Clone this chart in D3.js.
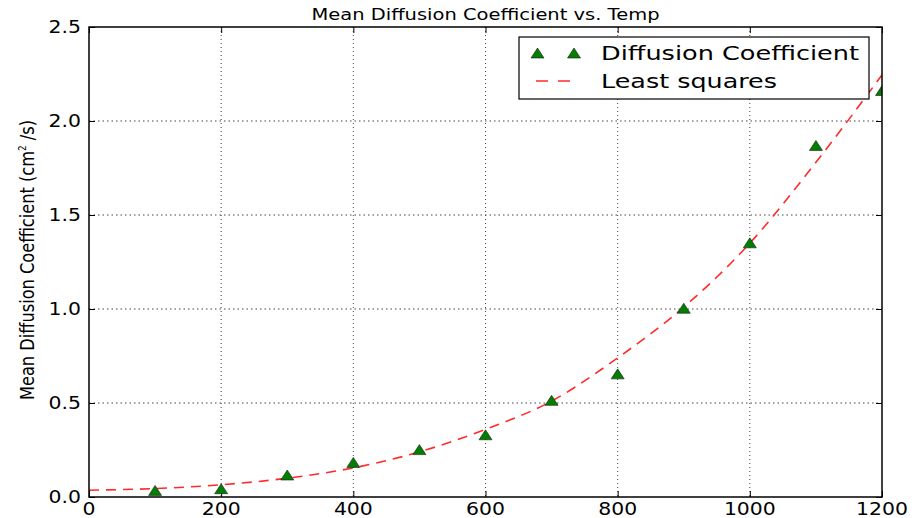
<!DOCTYPE html>
<html>
<head>
<meta charset="utf-8">
<script src="https://d3js.org/d3.v7.min.js"></script>
<style>
  body { margin: 0; background: #fff; }
  text { font-family: "DejaVu Sans", sans-serif; fill: #000; }
</style>
</head>
<body>
<div id="chart"></div>
<script>
// measured points
var temps = [100, 200, 300, 400, 500, 600, 700, 800, 900, 1000, 1100, 1200];
var diffCoef = [0.035, 0.044, 0.117, 0.184, 0.252, 0.331, 0.514, 0.655, 1.004, 1.352, 1.87, 2.162];

// least squares curve
var fitTemps = [0, 100, 200, 300, 400, 500, 600, 700, 800, 900, 1000, 1100, 1200];
var fitValues = [0.036, 0.045, 0.065, 0.10, 0.155, 0.24, 0.36, 0.51, 0.74, 1.01, 1.35, 1.78, 2.245];

var xTicks = [0, 200, 400, 600, 800, 1000, 1200];
var yTicks = [0.0, 0.5, 1.0, 1.5, 2.0, 2.5];

var svgWidth = 915;
var svgHeight = 518;

var margin = {
  top: 27,
  bottom: 21,
  right: 33,
  left: 89
};

var height = svgHeight - margin.top - margin.bottom;
var width = svgWidth - margin.left - margin.right;

var svg = d3.select("#chart")
  .append("svg")
  .attr("width", svgWidth)
  .attr("height", svgHeight);

svg.append("defs").append("clipPath")
  .attr("id", "plotClip")
  .append("rect")
  .attr("width", width)
  .attr("height", height);

var chartGroup = svg.append("g")
  .attr("transform", `translate(${margin.left}, ${margin.top})`);

var xScale = d3.scaleLinear().domain([0, 1200]).range([0, width]);
var yScale = d3.scaleLinear().domain([0, 2.5]).range([height, 0]);

// dotted grid
chartGroup.selectAll("line.vgrid")
  .data(xTicks.slice(1, -1))
  .enter()
  .append("line")
  .attr("x1", d => xScale(d))
  .attr("x2", d => xScale(d))
  .attr("y1", 0)
  .attr("y2", height)
  .attr("stroke", "#444")
  .attr("stroke-width", 1)
  .attr("stroke-dasharray", "1,3");

chartGroup.selectAll("line.hgrid")
  .data(yTicks.slice(1, -1))
  .enter()
  .append("line")
  .attr("x1", 0)
  .attr("x2", width)
  .attr("y1", d => yScale(d))
  .attr("y2", d => yScale(d))
  .attr("stroke", "#444")
  .attr("stroke-width", 1)
  .attr("stroke-dasharray", "1.5,3");

// axes (ticks pointing in, on all four sides)
var tickLen = 6;
function innerAxis(g) {
  g.selectAll(".domain").remove();
  g.selectAll("text").remove();
  g.selectAll("line").attr("stroke", "#000");
}
chartGroup.append("g")
  .attr("transform", `translate(0, ${height})`)
  .call(d3.axisTop(xScale).tickValues(xTicks).tickSize(tickLen))
  .call(innerAxis);
chartGroup.append("g")
  .call(d3.axisBottom(xScale).tickValues(xTicks).tickSize(tickLen))
  .call(innerAxis);
chartGroup.append("g")
  .call(d3.axisRight(yScale).tickValues(yTicks).tickSize(tickLen))
  .call(innerAxis);
chartGroup.append("g")
  .attr("transform", `translate(${width}, 0)`)
  .call(d3.axisLeft(yScale).tickValues(yTicks).tickSize(tickLen))
  .call(innerAxis);

// tick labels, a bit stretched sideways like the reference
chartGroup.selectAll("text.xlab")
  .data(xTicks)
  .enter()
  .append("text")
  .attr("text-anchor", "middle")
  .attr("font-size", "17px")
  .attr("transform", d => `translate(${xScale(d)}, ${height + 18}) scale(1.2, 1)`)
  .text(d => d);

chartGroup.selectAll("text.ylab")
  .data(yTicks)
  .enter()
  .append("text")
  .attr("text-anchor", "end")
  .attr("font-size", "17px")
  .attr("transform", d => `translate(-8, ${yScale(d) + 6}) scale(1.2, 1)`)
  .text(d => d.toFixed(1));

// least squares line
var line = d3.line()
  .x(d => xScale(d[0]))
  .y(d => yScale(d[1]))
  .curve(d3.curveMonotoneX);

var plotArea = chartGroup.append("g").attr("clip-path", "url(#plotClip)");

plotArea.append("path")
  .datum(fitTemps.map((t, i) => [t, fitValues[i]]))
  .attr("d", line)
  .attr("fill", "none")
  .attr("stroke", "#ff2a2a")
  .attr("stroke-width", 1.6)
  .attr("stroke-dasharray", "10,7");

// triangle markers
function tri(cx, cy, w, h) {
  return `M${cx},${cy - h / 2}L${cx + w / 2},${cy + h / 2}L${cx - w / 2},${cy + h / 2}Z`;
}
plotArea.selectAll("path.pt")
  .data(temps)
  .enter()
  .append("path")
  .attr("d", (d, i) => tri(xScale(d), yScale(diffCoef[i]), 13, 10))
  .attr("fill", "#007f00")
  .attr("stroke", "#1a1a1a")
  .attr("stroke-width", 0.6);

// frame
chartGroup.append("rect")
  .attr("width", width)
  .attr("height", height)
  .attr("fill", "none")
  .attr("stroke", "#000")
  .attr("stroke-width", 1.5);

// title
svg.append("text")
  .attr("x", margin.left + width / 2 - 174)
  .attr("y", 20)
  .attr("font-size", "16px")
  .attr("textLength", 348)
  .attr("lengthAdjust", "spacingAndGlyphs")
  .text("Mean Diffusion Coefficient vs. Temp");

// y label
var yLabel = svg.append("text")
  .attr("transform", `translate(34, ${margin.top + height / 2 - 2}) rotate(-90)`)
  .attr("x", -140)
  .attr("font-size", "20px")
  .attr("textLength", 280)
  .attr("lengthAdjust", "spacingAndGlyphs");
yLabel.append("tspan").text("Mean Diffusion Coefficient (cm");
yLabel.append("tspan").attr("font-size", "11px").attr("dy", -8).text("2");
yLabel.append("tspan").attr("dy", 8).text(" /s)");

// legend
var legend = svg.append("g");
legend.append("rect")
  .attr("x", 519)
  .attr("y", 37)
  .attr("width", 350)
  .attr("height", 62)
  .attr("fill", "#fff")
  .attr("stroke", "#000")
  .attr("stroke-width", 1.2);

legend.selectAll("path.lt")
  .data([537.5, 574])
  .enter()
  .append("path")
  .attr("d", d => tri(d, 53, 13, 10))
  .attr("fill", "#007f00")
  .attr("stroke", "#1a1a1a")
  .attr("stroke-width", 0.6);

legend.append("line")
  .attr("x1", 536)
  .attr("x2", 570)
  .attr("y1", 81)
  .attr("y2", 81)
  .attr("stroke", "#ff2a2a")
  .attr("stroke-width", 1.6)
  .attr("stroke-dasharray", "12,10");

legend.append("text")
  .attr("x", 601)
  .attr("y", 60)
  .attr("font-size", "19px")
  .attr("textLength", 258)
  .attr("lengthAdjust", "spacingAndGlyphs")
  .text("Diffusion Coefficient");

legend.append("text")
  .attr("x", 601)
  .attr("y", 88)
  .attr("font-size", "19px")
  .attr("textLength", 176)
  .attr("lengthAdjust", "spacingAndGlyphs")
  .text("Least squares");
</script>
</body>
</html>
